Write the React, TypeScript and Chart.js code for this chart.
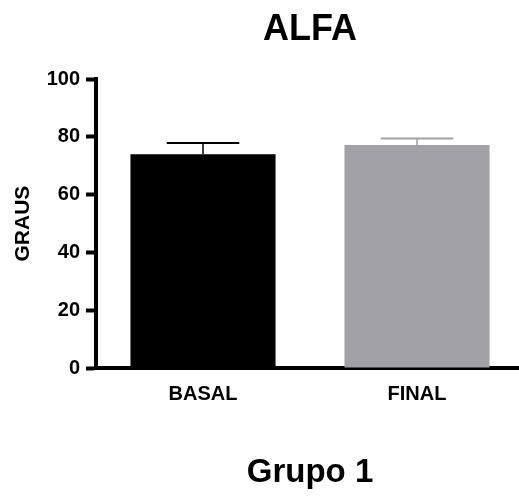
import React, { useEffect, useRef } from "react";
import { Chart, registerables } from "chart.js";

Chart.register(...registerables);

const categories = ["BASAL", "FINAL"];
const means = [74.0, 77.2];
const errors = [3.9, 2.3];
const barColors = ["#000000", "#A1A1A6"];
const yTicks = [0, 20, 40, 60, 80, 100];
const chartTitle = "ALFA";
const xTitle = "Grupo 1";
const yTitle = "GRAUS";

const FONT = '"Liberation Sans", Arial, Helvetica, sans-serif';

const errorBarPlugin = {
  id: "errorBars",
  afterDatasetsDraw(chart: any) {
    const meta = chart.getDatasetMeta(0);
    const yScale = chart.scales.y;
    const ctx = chart.ctx;
    meta.data.forEach((bar: any, i: number) => {
      const x = bar.x;
      const top = yScale.getPixelForValue(means[i] + errors[i]);
      const base = bar.y;
      const half = bar.width / 4;
      ctx.save();
      ctx.strokeStyle = barColors[i];
      ctx.lineWidth = 1.5;
      ctx.beginPath();
      ctx.moveTo(x, base);
      ctx.lineTo(x, top);
      ctx.stroke();
      ctx.lineWidth = 2;
      ctx.beginPath();
      ctx.moveTo(x - half, top);
      ctx.lineTo(x + half, top);
      ctx.stroke();
      ctx.restore();
    });
  },
};

export default function App() {
  const canvasRef = useRef<HTMLCanvasElement | null>(null);

  useEffect(() => {
    if (!canvasRef.current) return;
    const chart = new Chart(canvasRef.current, {
      type: "bar",
      data: {
        labels: categories,
        datasets: [
          {
            data: means,
            backgroundColor: barColors,
            borderWidth: 0,
            barPercentage: 0.678,
            categoryPercentage: 1,
          },
        ],
      },
      options: {
        responsive: false,
        animation: false,
        devicePixelRatio: 1,
        layout: { padding: { left: 0, right: 0, top: 0, bottom: 0 } },
        plugins: {
          legend: { display: false },
          tooltip: { enabled: false },
          title: {
            display: true,
            text: chartTitle,
            fullSize: false,
            color: "#000",
            font: { family: FONT, size: 36, weight: "bold" },
            padding: { top: 8, bottom: 28 },
          },
        },
        scales: {
          x: {
            type: "category",
            offset: true,
            afterFit: (s: any) => {
              s.height = 128;
            },
            grid: { display: false, drawTicks: false },
            border: { display: true, color: "#000", width: 4 },
            ticks: {
              color: "#000",
              padding: 14,
              font: { family: FONT, size: 20, weight: "bold" },
            },
            title: {
              display: true,
              text: xTitle,
              color: "#000",
              font: { family: FONT, size: 33, weight: "bold" },
              padding: { top: 0, bottom: 3 },
            },
          },
          y: {
            min: 0,
            max: 100,
            afterFit: (s: any) => {
              s.width = 96;
            },
            afterBuildTicks: (s: any) => {
              s.ticks = yTicks.map((v) => ({ value: v }));
            },
            grid: {
              display: true,
              drawOnChartArea: false,
              drawTicks: true,
              tickLength: 10,
              tickWidth: 4,
              tickColor: "#000",
            },
            border: { display: true, color: "#000", width: 4 },
            ticks: {
              color: "#000",
              padding: 6,
              font: { family: FONT, size: 20, weight: "bold" },
            },
            title: {
              display: true,
              text: yTitle,
              color: "#000",
              font: { family: FONT, size: 21, weight: "bold" },
              padding: { top: 11, bottom: 0 },
            },
          },
        },
      },
      plugins: [errorBarPlugin],
    });
    return () => chart.destroy();
  }, []);

  return (
    <div
      style={{
        position: "fixed",
        left: 0,
        top: 0,
        width: 519,
        height: 496,
        overflow: "hidden",
        background: "#fff",
      }}
    >
      <canvas ref={canvasRef} width={524} height={496} style={{ display: "block" }} />
    </div>
  );
}
